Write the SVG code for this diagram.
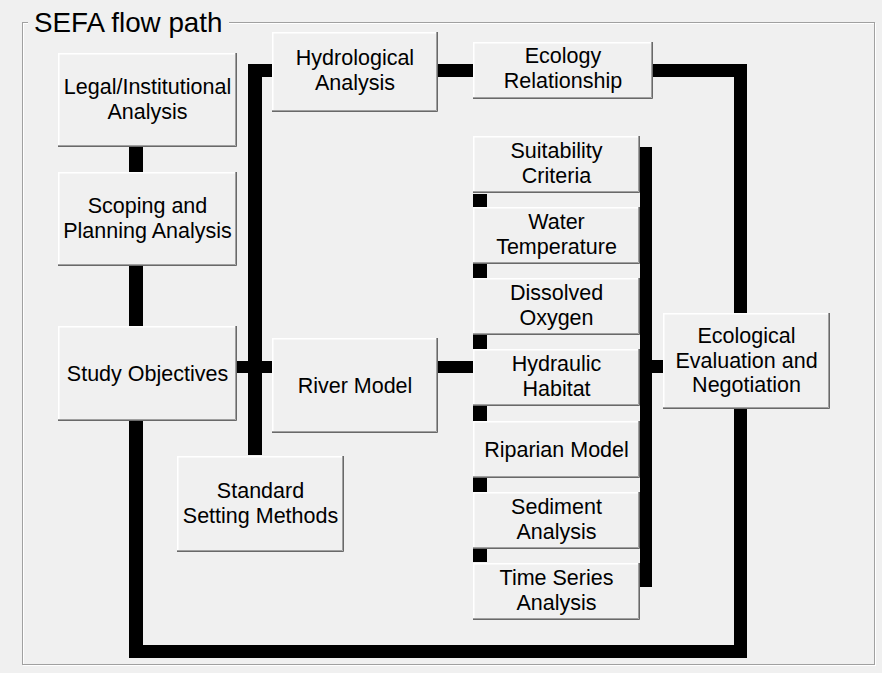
<svg xmlns="http://www.w3.org/2000/svg" width="882" height="673" viewBox="0 0 882 673">
<defs>
<style>
.btn{fill:#f0f0f0}
.hl{fill:none;stroke:#ffffff;stroke-width:1.5}
.sh{fill:none;stroke:#a0a0a0;stroke-width:1}
.sh2{fill:none;stroke:#696969;stroke-width:1}
.t{font-family:"Liberation Sans",Arial,sans-serif;font-size:21.5px;fill:#000;text-anchor:middle}
.title{font-family:"Liberation Sans",Arial,sans-serif;font-size:27.8px;fill:#000}
.c{fill:#000}
</style>
</defs>
<rect x="0" y="0" width="882" height="673" fill="#f0f0f0"/>
<g id="groupbox">
<rect x="23.5" y="23.5" width="852" height="642" fill="none" stroke="#ffffff" stroke-width="1"/>
<rect x="22.5" y="22.5" width="852" height="642" fill="none" stroke="#a0a0a0" stroke-width="1"/>
<rect x="28" y="10" width="201" height="20" fill="#f0f0f0"/>
<text class="title" x="34" y="32">SEFA flow path</text>
</g>
<g id="connectors">
<rect class="c" x="129" y="147" width="14" height="25"/>
<rect class="c" x="129" y="266" width="14" height="60"/>
<rect class="c" x="129" y="421" width="14" height="237"/>
<rect class="c" x="129" y="645" width="618" height="13"/>
<rect class="c" x="734" y="409" width="13" height="249"/>
<rect class="c" x="653" y="64" width="94" height="13"/>
<rect class="c" x="734" y="64" width="13" height="249"/>
<rect class="c" x="438" y="64" width="35" height="13"/>
<rect class="c" x="248" y="64" width="24" height="13"/>
<rect class="c" x="248" y="64" width="14" height="391"/>
<rect class="c" x="237" y="361" width="35" height="12"/>
<rect class="c" x="438" y="361" width="35" height="12"/>
<rect class="c" x="473" y="194" width="14" height="368"/>
<rect class="c" x="640" y="147" width="12" height="440"/>
<rect class="c" x="652" y="360" width="11" height="13"/>
</g>
<g id="legal">
<rect class="btn" x="58" y="53" width="179" height="94"/>
<path class="hl" d="M58.75,146 V53.75 H236"/>
<path class="sh" d="M58,145.5 H235.5 V53"/>
<path class="sh2" d="M58,146.5 H236.5 V53"/>
<text class="t" x="147.5" y="94">Legal/Institutional</text>
<text class="t" x="147.5" y="119">Analysis</text>
</g>
<g id="scoping">
<rect class="btn" x="58" y="172" width="179" height="94"/>
<path class="hl" d="M58.75,265 V172.75 H236"/>
<path class="sh" d="M58,264.5 H235.5 V172"/>
<path class="sh2" d="M58,265.5 H236.5 V172"/>
<text class="t" x="147.5" y="213">Scoping and</text>
<text class="t" x="147.5" y="238">Planning Analysis</text>
</g>
<g id="study">
<rect class="btn" x="58" y="326" width="179" height="95"/>
<path class="hl" d="M58.75,420 V326.75 H236"/>
<path class="sh" d="M58,419.5 H235.5 V326"/>
<path class="sh2" d="M58,420.5 H236.5 V326"/>
<text class="t" x="147.5" y="381">Study Objectives</text>
</g>
<g id="hydrological">
<rect class="btn" x="272" y="32" width="166" height="80"/>
<path class="hl" d="M272.75,111 V32.75 H437"/>
<path class="sh" d="M272,110.5 H436.5 V32"/>
<path class="sh2" d="M272,111.5 H437.5 V32"/>
<text class="t" x="355" y="65">Hydrological</text>
<text class="t" x="355" y="90">Analysis</text>
</g>
<g id="ecology">
<rect class="btn" x="473" y="42" width="180" height="57"/>
<path class="hl" d="M473.75,98 V42.75 H652"/>
<path class="sh" d="M473,97.5 H651.5 V42"/>
<path class="sh2" d="M473,98.5 H652.5 V42"/>
<text class="t" x="563" y="63">Ecology</text>
<text class="t" x="563" y="88">Relationship</text>
</g>
<g id="river">
<rect class="btn" x="272" y="338" width="166" height="95"/>
<path class="hl" d="M272.75,432 V338.75 H437"/>
<path class="sh" d="M272,431.5 H436.5 V338"/>
<path class="sh2" d="M272,432.5 H437.5 V338"/>
<text class="t" x="355" y="393">River Model</text>
</g>
<g id="standard">
<rect class="btn" x="177" y="456" width="167" height="96"/>
<path class="hl" d="M177.75,551 V456.75 H343"/>
<path class="sh" d="M177,550.5 H342.5 V456"/>
<path class="sh2" d="M177,551.5 H343.5 V456"/>
<text class="t" x="260.5" y="498">Standard</text>
<text class="t" x="260.5" y="523">Setting Methods</text>
</g>
<g id="suitability">
<rect class="btn" x="473" y="136" width="167" height="57"/>
<path class="hl" d="M473.75,192 V136.75 H639"/>
<path class="sh" d="M473,191.5 H638.5 V136"/>
<path class="sh2" d="M473,192.5 H639.5 V136"/>
<text class="t" x="556.5" y="158">Suitability</text>
<text class="t" x="556.5" y="183">Criteria</text>
</g>
<g id="water">
<rect class="btn" x="473" y="207" width="167" height="57"/>
<path class="hl" d="M473.75,263 V207.75 H639"/>
<path class="sh" d="M473,262.5 H638.5 V207"/>
<path class="sh2" d="M473,263.5 H639.5 V207"/>
<text class="t" x="556.5" y="229">Water</text>
<text class="t" x="556.5" y="254">Temperature</text>
</g>
<g id="oxygen">
<rect class="btn" x="473" y="278" width="167" height="57"/>
<path class="hl" d="M473.75,334 V278.75 H639"/>
<path class="sh" d="M473,333.5 H638.5 V278"/>
<path class="sh2" d="M473,334.5 H639.5 V278"/>
<text class="t" x="556.5" y="300">Dissolved</text>
<text class="t" x="556.5" y="325">Oxygen</text>
</g>
<g id="hydraulic">
<rect class="btn" x="473" y="349" width="167" height="57"/>
<path class="hl" d="M473.75,405 V349.75 H639"/>
<path class="sh" d="M473,404.5 H638.5 V349"/>
<path class="sh2" d="M473,405.5 H639.5 V349"/>
<text class="t" x="556.5" y="371">Hydraulic</text>
<text class="t" x="556.5" y="396">Habitat</text>
</g>
<g id="riparian">
<rect class="btn" x="473" y="421" width="167" height="57"/>
<path class="hl" d="M473.75,477 V421.75 H639"/>
<path class="sh" d="M473,476.5 H638.5 V421"/>
<path class="sh2" d="M473,477.5 H639.5 V421"/>
<text class="t" x="556.5" y="457">Riparian Model</text>
</g>
<g id="sediment">
<rect class="btn" x="473" y="492" width="167" height="57"/>
<path class="hl" d="M473.75,548 V492.75 H639"/>
<path class="sh" d="M473,547.5 H638.5 V492"/>
<path class="sh2" d="M473,548.5 H639.5 V492"/>
<text class="t" x="556.5" y="514">Sediment</text>
<text class="t" x="556.5" y="539">Analysis</text>
</g>
<g id="timeseries">
<rect class="btn" x="473" y="563" width="167" height="57"/>
<path class="hl" d="M473.75,619 V563.75 H639"/>
<path class="sh" d="M473,618.5 H638.5 V563"/>
<path class="sh2" d="M473,619.5 H639.5 V563"/>
<text class="t" x="556.5" y="585">Time Series</text>
<text class="t" x="556.5" y="610">Analysis</text>
</g>
<g id="ecological">
<rect class="btn" x="663" y="313" width="167" height="96"/>
<path class="hl" d="M663.75,408 V313.75 H829"/>
<path class="sh" d="M663,407.5 H828.5 V313"/>
<path class="sh2" d="M663,408.5 H829.5 V313"/>
<text class="t" x="746.5" y="343">Ecological</text>
<text class="t" x="746.5" y="368">Evaluation and</text>
<text class="t" x="746.5" y="392">Negotiation</text>
</g>
</svg>
